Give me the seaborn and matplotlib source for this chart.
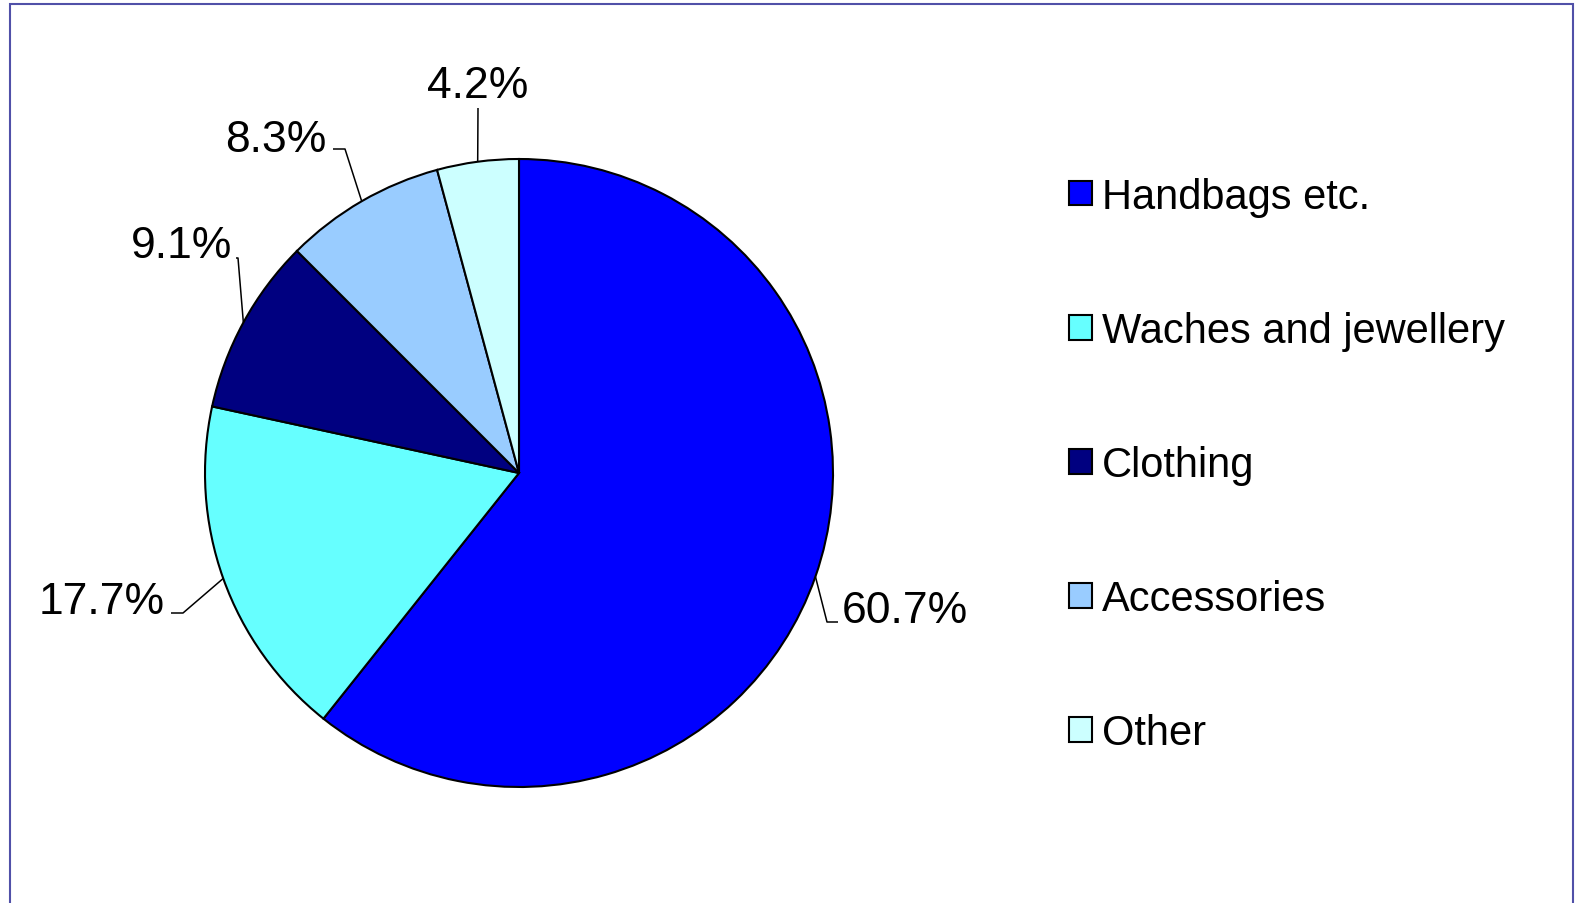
import numpy as np
import seaborn as sns
import matplotlib.pyplot as plt
from matplotlib.patches import Rectangle

categories = ['Handbags etc.', 'Waches and jewellery', 'Clothing', 'Accessories', 'Other']
shares = [60.7, 17.7, 9.1, 8.3, 4.2]
colors = ['#0000FF', '#66FFFF', '#000080', '#99CCFF', '#CCFFFF']

sns.set_theme(style='white')
plt.rcParams['font.family'] = ['Liberation Sans', 'DejaVu Sans']
plt.rcParams['text.color'] = 'black'

W, H = 1581, 904
fig = plt.figure(figsize=(W / 100, H / 100), dpi=100)
ax = fig.add_axes([0, 0, 1, 1])

# pie in pixel-like data coords (y up)
cx, cy, r = 519, H - 474, 314
wedges, _ = ax.pie(shares, colors=colors, startangle=90, counterclock=False,
                   center=(cx, cy), radius=r,
                   wedgeprops=dict(edgecolor='black', linewidth=1.5))
ax.set_xlim(0, W)
ax.set_ylim(0, H)
ax.set_aspect('equal', adjustable='box')
ax.axis('off')

# label layout: (elbow, end of leader, text pos, ha) in image pixel coords
layout = [
    ((827, 623), (838, 623), (842, 623), 'left'),
    ((183, 614), (171, 614), (165, 614), 'right'),
    ((238, 259), (236, 259), (232, 258), 'right'),
    ((345, 150), (333, 150), (326, 152), 'right'),
    ((478, 109), (478, 109), (478, 98), 'center'),
]

for w, val, (elb, end, tpos, ha) in zip(wedges, shares, layout):
    mid = np.deg2rad((w.theta1 + w.theta2) / 2)
    ax_, ay_ = cx + r * np.cos(mid), cy + r * np.sin(mid)
    ax.plot([ax_, elb[0], end[0]], [ay_, H - elb[1], H - end[1]],
            color='black', lw=1.1, solid_capstyle='butt')
    ax.text(tpos[0], H - tpos[1], f'{val:.1f}%', ha=ha, va='baseline',
            fontsize=32, color='black')

leg = ax.legend(wedges, categories, loc='center left',
                bbox_to_anchor=(1069 / W, (H - 466) / H), bbox_transform=fig.transFigure,
                frameon=False, fontsize=30, handlelength=0.54, handleheight=0.54,
                handletextpad=0.25, labelspacing=2.26, borderpad=0, borderaxespad=0,
                labelcolor='black')
for h in leg.legend_handles:
    h.set_linewidth(1.5)

fig.add_artist(Rectangle((10 / W, -0.02), 1563 / W, (H - 5) / H + 0.02,
                         transform=fig.transFigure, fill=False,
                         edgecolor='#5050A8', linewidth=1.5))

fig.savefig('out.png', dpi=100)
